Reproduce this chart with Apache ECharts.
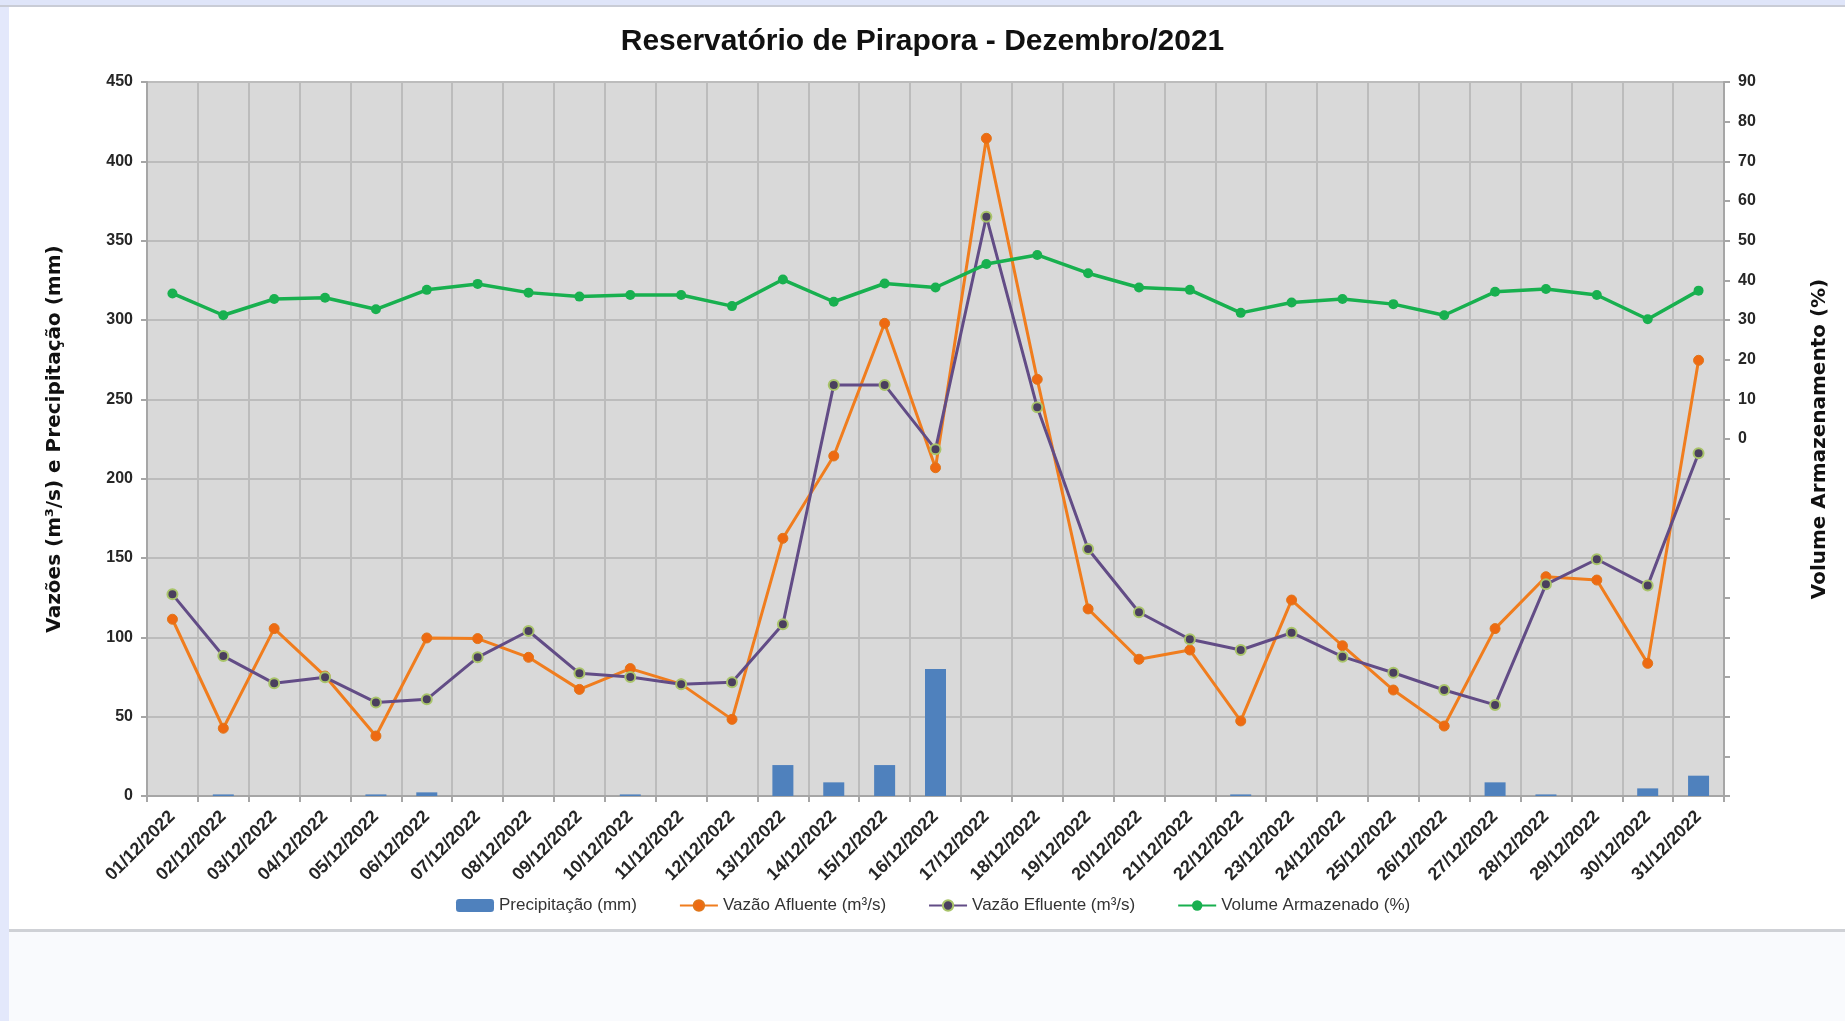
<!DOCTYPE html>
<html>
<head>
<meta charset="utf-8">
<script src="https://cdn.jsdelivr.net/npm/echarts@6/dist/echarts.min.js"></script>
<style>
html,body{margin:0;padding:0;background:#ffffff;}
#chart{width:1845px;height:1021px;}
</style>
</head>
<body>
<div id="chart"></div>
<script>
var titleText = 'Reservatório de Pirapora - Dezembro/2021';
var dates = ['01/12/2022','02/12/2022','03/12/2022','04/12/2022','05/12/2022','06/12/2022','07/12/2022','08/12/2022','09/12/2022','10/12/2022','11/12/2022','12/12/2022','13/12/2022','14/12/2022','15/12/2022','16/12/2022','17/12/2022','18/12/2022','19/12/2022','20/12/2022','21/12/2022','22/12/2022','23/12/2022','24/12/2022','25/12/2022','26/12/2022','27/12/2022','28/12/2022','29/12/2022','30/12/2022','31/12/2022'];
var precipitacao = [0,1,0,0,1,2.3,0,0,0,1,0,0,19.5,8.6,19.5,80,0,0,0,0,0,1,0,0,0,0,8.6,1,0,4.8,12.8];
var vazaoAfluente = [111.4,42.7,105.5,75.6,37.8,99.6,99.2,87.4,67.2,80.3,70.5,48.3,162.4,214.3,297.9,206.9,414.5,262.6,117.9,86.2,92.0,47.3,123.5,94.7,66.8,44.1,105.5,138.2,136.1,83.6,274.6];
var vazaoEfluente = [127.1,88.2,71.0,74.8,59.0,60.9,87.4,104.0,77.3,75.0,70.5,71.7,108.2,259.1,259.1,218.5,365.1,245.0,155.7,115.8,98.8,92.0,102.9,87.8,77.7,66.8,57.4,133.4,149.2,132.6,216.0];
var volumeArmazenado = [36.7,31.2,35.3,35.6,32.7,37.6,39.1,36.9,35.9,36.3,36.3,33.5,40.2,34.6,39.2,38.2,44.1,46.4,41.8,38.2,37.6,31.8,34.4,35.3,34.0,31.2,37.1,37.8,36.3,30.2,37.4];
var seriesNames = ['Precipitação (mm)','Vazão Afluente (m³/s)','Vazão Efluente (m³/s)','Volume Armazenado (%)'];
var leftAxisName = 'Vazões (m³/s) e Precipitação (mm)';
var rightAxisName = 'Volume Armazenamento (%)';

var chart = echarts.init(document.getElementById('chart'), null, {renderer:'canvas'});
var lblFont = '"Liberation Sans", Arial, sans-serif';
var option = {
  animation: false,
  backgroundColor: '#ffffff',
  graphic: [
    {type:'rect', left:0, top:0, shape:{width:9, height:1021}, style:{fill:'#e3e8fb'}, z:-10},
    {type:'rect', left:0, top:0, shape:{width:1845, height:5}, style:{fill:'#dfe5f9'}, z:-10},
    {type:'rect', left:0, top:5, shape:{width:1845, height:2}, style:{fill:'#c9ccd6'}, z:-10},
    {type:'rect', left:9, top:932, shape:{width:1836, height:89}, style:{fill:'#f9fafd'}, z:-10},
    {type:'rect', left:9, top:929, shape:{width:1836, height:3}, style:{fill:'#cfd1d6'}, z:-10}
  ],
  title: {
    text: titleText,
    left: 'center',
    top: 22,
    textStyle: {fontFamily: lblFont, fontWeight:'bold', fontSize:30, color:'#111111'}
  },
  grid: {
    left: 147, right: 121, top: 82, bottom: 225,
    show: true, backgroundColor: '#d9d9d9', borderWidth: 0
  },
  legend: {
    left: 451, top: 892,
    itemGap: 42, itemWidth: 38, itemHeight: 13,
    textStyle: {fontFamily: lblFont, fontSize: 17, color:'#333333'},
    data: seriesNames
  },
  xAxis: {
    type: 'category',
    data: dates,
    boundaryGap: true,
    axisLine: {show:true, lineStyle:{color:'#a6a6a6', width:2}},
    axisTick: {show:true, length:6, lineStyle:{color:'#a6a6a6', width:2}},
    splitLine: {show:true, lineStyle:{color:'#bcbcbc', width:2}},
    axisLabel: {rotate:45, interval:0, margin:18, fontFamily: lblFont, fontWeight:'bold', fontSize:18, color:'#262626'}
  },
  yAxis: [
    {
      type: 'value', min: 0, max: 450, interval: 50,
      name: leftAxisName, nameLocation:'middle', nameRotate:90, nameGap:82,
      nameTextStyle: {fontFamily:'"DejaVu Sans", sans-serif', fontWeight:'bold', fontSize:20, color:'#111111'},
      axisLine: {show:true, lineStyle:{color:'#a6a6a6', width:2}},
      axisTick: {show:true, length:6, lineStyle:{color:'#a6a6a6', width:2}},
      splitLine: {show:true, lineStyle:{color:'#bcbcbc', width:2}},
      axisLabel: {margin:14, fontFamily: lblFont, fontWeight:'bold', fontSize:16, color:'#262626'}
    },
    {
      type: 'value', min: -90, max: 90, interval: 10, position:'right',
      name: rightAxisName, nameLocation:'middle', nameRotate:90, nameGap:86,
      nameTextStyle: {fontFamily:'"DejaVu Sans", sans-serif', fontWeight:'bold', fontSize:20, color:'#111111'},
      axisLine: {show:true, lineStyle:{color:'#a6a6a6', width:2}},
      axisTick: {show:true, length:6, lineStyle:{color:'#a6a6a6', width:2}},
      splitLine: {show:false},
      axisLabel: {margin:14, fontFamily: lblFont, fontWeight:'bold', fontSize:16, color:'#262626',
        formatter: function(v){ return v >= 0 ? String(v) : ''; }}
    }
  ],
  series: [
    {
      name: seriesNames[0], type:'bar', data: precipitacao, yAxisIndex:0,
      barWidth: 21, itemStyle:{color:'#4f81bd'}
    },
    {
      name: seriesNames[1], type:'line', data: vazaoAfluente, yAxisIndex:0,
      symbol:'circle', symbolSize:10,
      lineStyle:{color:'#f07d1e', width:3},
      itemStyle:{color:'#ee6a12', borderColor:'#e0761a', borderWidth:1}
    },
    {
      name: seriesNames[2], type:'line', data: vazaoEfluente, yAxisIndex:0,
      symbol:'circle', symbolSize:10,
      lineStyle:{color:'#624c86', width:3},
      itemStyle:{color:'#4a3f5e', borderColor:'#a9c46a', borderWidth:2}
    },
    {
      name: seriesNames[3], type:'line', data: volumeArmazenado, yAxisIndex:1,
      symbol:'circle', symbolSize:10,
      lineStyle:{color:'#18b04f', width:3.5},
      itemStyle:{color:'#18b04f'}
    }
  ]
};
chart.setOption(option);
</script>
</body>
</html>
